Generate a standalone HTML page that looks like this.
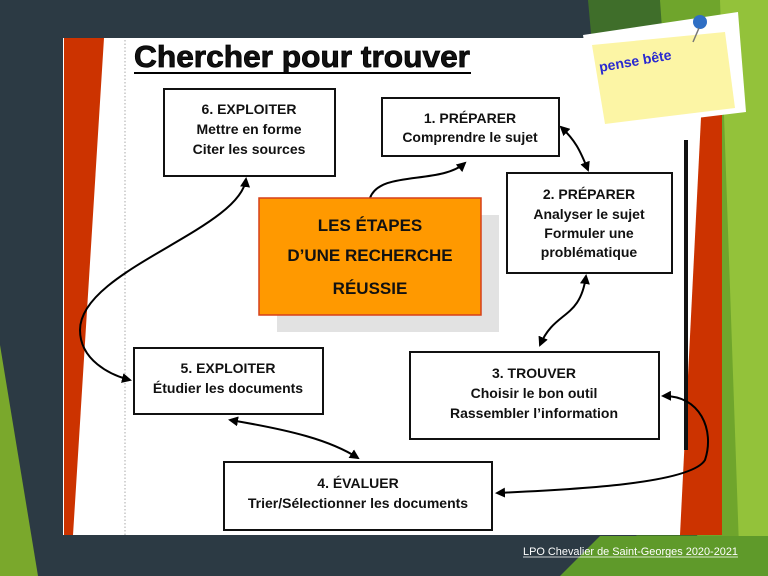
<!DOCTYPE html>
<html><head><meta charset="utf-8"><style>
html,body{margin:0;padding:0;width:768px;height:576px;overflow:hidden;background:#2c3a44}
svg{display:block}
text{font-family:"Liberation Sans",sans-serif;font-weight:bold;fill:#111}
</style></head><body>
<svg width="768" height="576" viewBox="0 0 768 576" xmlns="http://www.w3.org/2000/svg">
<defs>
<marker id="a" markerWidth="10" markerHeight="10" refX="8" refY="5" orient="auto-start-reverse" markerUnits="userSpaceOnUse"><path d="M0,0 L10,5 L0,10 z" fill="#000"/></marker>
</defs>
<rect width="768" height="576" fill="#2c3a44"/>
<polygon points="588,0 768,0 768,576 640,576" fill="#3f6e2a"/>
<polygon points="660,0 768,0 768,576 700,576" fill="#6fa52c"/>
<polygon points="720,0 768,0 768,576 740,576" fill="#93c23a"/>
<polygon points="0,345 38,576 0,576" fill="#7aa82c"/>
<polygon points="600,536 768,536 768,576 560,576" fill="#5f9a2a"/>
<rect x="63" y="38" width="659" height="497" fill="#fff"/>
<polygon points="64,38 104,38 73,535 64,535" fill="#cc3300"/>
<polygon points="705,38 722,38 722,535 680,535" fill="#cc3300"/>
<line x1="125" y1="40" x2="125" y2="535" stroke="#aaa" stroke-dasharray="1.5,2"/>
<line x1="686" y1="140" x2="686" y2="450" stroke="#111" stroke-width="4"/>
<text x="134" y="67" font-size="31" font-weight="900" textLength="336" lengthAdjust="spacingAndGlyphs" stroke="#000" stroke-width="0.8">Chercher pour trouver</text>
<line x1="134" y1="73" x2="471" y2="73" stroke="#000" stroke-width="2"/>
<polygon points="583,35 738,12 746,112 598,130" fill="#fff"/>
<polygon points="592,45 725,32 735,108 605,124" fill="#fcf5a5"/>
<text x="600" y="72" font-size="14" style="fill:#2a2ad0" transform="rotate(-10 600 72)">pense bête</text>
<circle cx="700" cy="22" r="7" fill="#2f6fc4"/>
<line x1="699" y1="28" x2="693" y2="42" stroke="#777" stroke-width="1.5"/>
<g fill="none" stroke="#000" stroke-width="2">
<path d="M370,198 C380,170 440,185 465,163" marker-end="url(#a)"/>
<path d="M561,127 C575,140 580,150 588,170" marker-start="url(#a)" marker-end="url(#a)"/>
<path d="M586,276 C580,320 555,310 540,345" marker-start="url(#a)" marker-end="url(#a)"/>
<path d="M246,179 C240,230 80,270 80,330 C80,360 110,375 130,380" marker-start="url(#a)" marker-end="url(#a)"/>
<path d="M230,420 C290,430 330,440 358,458" marker-start="url(#a)" marker-end="url(#a)"/>
<path d="M663,396 C700,395 715,430 705,460 C690,485 560,490 497,493" marker-start="url(#a)" marker-end="url(#a)"/>
</g>
<rect x="277" y="215" width="222" height="117" fill="#e2e2e2"/>
<rect x="259" y="198" width="222" height="117" fill="#ff9900" stroke="#d6401a" stroke-width="1.5"/>
<g text-anchor="middle" font-size="17">
<text x="370" y="231">LES ÉTAPES</text>
<text x="370" y="261">D’UNE RECHERCHE</text>
<text x="370" y="294">RÉUSSIE</text>
</g>
<g fill="#fff" stroke="#111" stroke-width="2">
<rect x="164" y="89" width="171" height="87"/>
<rect x="382" y="98" width="177" height="58"/>
<rect x="507" y="173" width="165" height="100"/>
<rect x="134" y="348" width="189" height="66"/>
<rect x="410" y="352" width="249" height="87"/>
<rect x="224" y="462" width="268" height="68"/>
</g>
<g text-anchor="middle" font-size="14">
<text x="249" y="114">6. EXPLOITER</text>
<text x="249" y="134">Mettre en forme</text>
<text x="249" y="154">Citer les sources</text>
<text x="470" y="123">1. PRÉPARER</text>
<text x="470" y="142">Comprendre le sujet</text>
<text x="589" y="199">2. PRÉPARER</text>
<text x="589" y="219">Analyser le sujet</text>
<text x="589" y="238">Formuler une</text>
<text x="589" y="257">problématique</text>
<text x="228" y="373">5. EXPLOITER</text>
<text x="228" y="393">Étudier les documents</text>
<text x="534" y="378">3. TROUVER</text>
<text x="534" y="398">Choisir le bon outil</text>
<text x="534" y="418">Rassembler l’information</text>
<text x="358" y="488">4. ÉVALUER</text>
<text x="358" y="508">Trier/Sélectionner les documents</text>
</g>
<text x="523" y="555" font-size="11" textLength="215" lengthAdjust="spacingAndGlyphs" style="fill:#fff;font-weight:normal">LPO Chevalier  de Saint-Georges  2020-2021</text>
<line x1="523" y1="557" x2="738" y2="557" stroke="#fff" stroke-width="0.8"/>
</svg>
</body></html>
